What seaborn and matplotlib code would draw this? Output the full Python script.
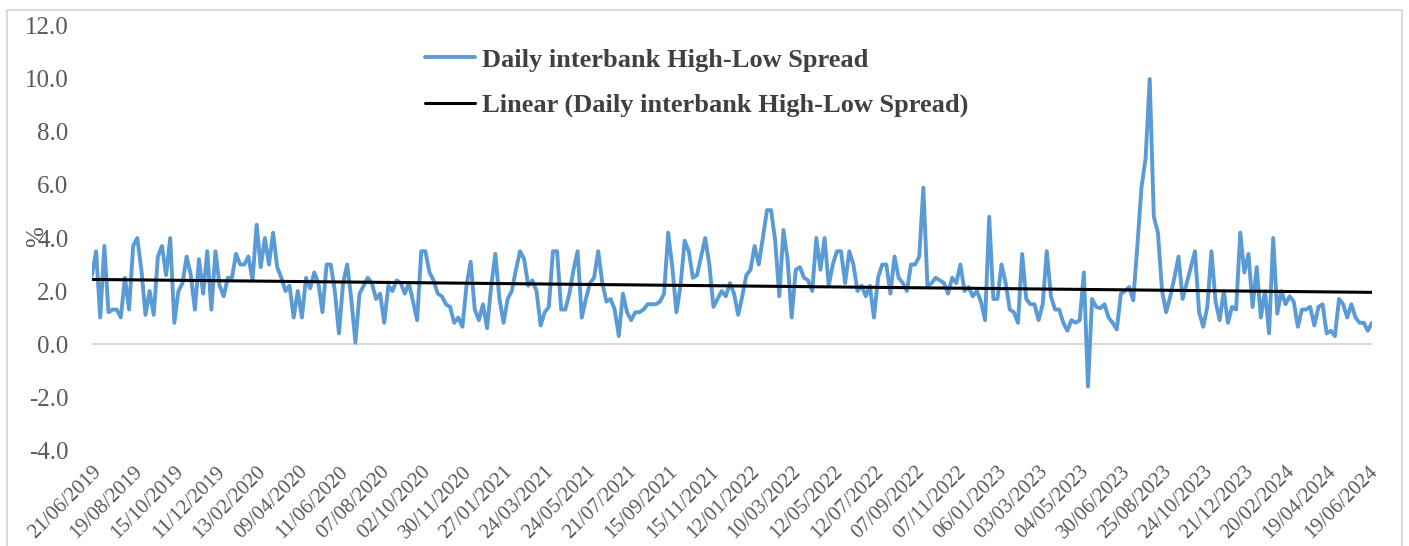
import numpy as np
import pandas as pd
import seaborn as sns
import matplotlib.pyplot as plt
from matplotlib.patches import Rectangle

# daily interbank high-low spread (%), one reading every 4 trading days
spread_jun19_feb20 = [2.6, 3.5, 1.0, 3.7, 1.2, 1.3, 1.3, 1.0, 2.5, 1.3,
                      3.7, 4.0, 2.8, 1.1, 2.0, 1.1, 3.3, 3.7, 2.6, 4.0,
                      0.8, 2.0, 2.3, 3.3, 2.6, 1.3, 3.2, 1.9, 3.5, 1.3,
                      3.5, 2.2, 1.8, 2.5, 2.5, 3.4, 3.0, 3.0, 3.3, 2.4]
spread_feb20_nov20 = [4.5, 2.9, 4.0, 3.0, 4.2, 2.9, 2.5, 2.0, 2.2, 1.0,
                      2.0, 1.0, 2.5, 2.1, 2.7, 2.3, 1.2, 3.0, 3.0, 2.0,
                      0.4, 2.3, 3.0, 1.7, 0.05, 1.9, 2.2, 2.5, 2.3, 1.7,
                      1.9, 0.8, 2.2, 2.0, 2.4, 2.3, 1.9, 2.3, 1.6, 0.9]
spread_nov20_jul21 = [3.5, 3.5, 2.7, 2.4, 1.9, 1.8, 1.5, 1.4, 0.8, 1.0,
                      0.65, 2.2, 3.1, 1.3, 0.9, 1.5, 0.6, 2.2, 3.4, 1.7,
                      0.8, 1.7, 2.0, 2.8, 3.5, 3.2, 2.2, 2.4, 2.0, 0.7,
                      1.2, 1.4, 3.5, 3.5, 1.3, 1.3, 1.9, 2.8, 3.5, 1.0]
spread_jul21_mar22 = [1.7, 2.3, 2.5, 3.5, 2.3, 1.6, 1.7, 1.3, 0.3, 1.9,
                      1.2, 0.9, 1.2, 1.2, 1.3, 1.5, 1.5, 1.5, 1.6, 1.9,
                      4.2, 2.9, 1.2, 2.2, 3.9, 3.5, 2.5, 2.6, 3.3, 4.0,
                      3.0, 1.4, 1.7, 2.0, 1.8, 2.3, 1.9, 1.1, 1.8, 2.6]
spread_mar22_nov22 = [2.8, 3.7, 3.0, 4.0, 5.05, 5.05, 3.9, 1.8, 4.3, 3.2,
                      1.0, 2.8, 2.9, 2.5, 2.4, 2.0, 4.0, 2.8, 4.0, 2.2,
                      3.0, 3.5, 3.5, 2.3, 3.5, 3.0, 2.0, 2.2, 1.8, 2.2,
                      1.0, 2.5, 3.0, 3.0, 1.9, 3.3, 2.5, 2.3, 2.0, 3.0]
spread_nov22_jun23 = [3.0, 3.3, 5.9, 2.2, 2.3, 2.5, 2.4, 2.3, 1.9, 2.5,
                      2.3, 3.0, 2.0, 2.15, 1.8, 2.0, 1.6, 0.9, 4.8, 1.7,
                      1.7, 3.0, 2.3, 1.3, 1.2, 0.8, 3.4, 1.7, 1.5, 1.5,
                      0.9, 1.5, 3.5, 1.8, 1.3, 1.3, 0.8, 0.5, 0.9, 0.8]
spread_jun23_feb24 = [0.9, 2.7, -1.6, 1.7, 1.4, 1.35, 1.5, 1.0, 0.8, 0.55,
                      1.9, 2.0, 2.15, 1.65, 3.7, 5.9, 7.0, 10.0, 4.8, 4.2,
                      2.0, 1.2, 1.8, 2.5, 3.3, 1.7, 2.3, 2.9, 3.5, 1.2,
                      0.65, 1.4, 3.5, 1.6, 0.9, 2.0, 0.8, 1.4, 1.3, 4.2]
spread_feb24_jun24 = [2.7, 3.4, 1.4, 2.9, 1.0, 2.0, 0.4, 4.0, 1.15, 2.0,
                      1.5, 1.8, 1.6, 0.65, 1.3, 1.3, 1.4, 0.7, 1.4, 1.5,
                      0.4, 0.5, 0.3, 1.7, 1.5, 1.0, 1.5, 1.0, 0.8, 0.8,
                      0.5, 0.8]

date_labels = ["21/06/2019", "19/08/2019", "15/10/2019", "11/12/2019", "13/02/2020",
               "09/04/2020", "11/06/2020", "07/08/2020", "02/10/2020", "30/11/2020",
               "27/01/2021", "24/03/2021", "24/05/2021", "21/07/2021", "15/09/2021",
               "15/11/2021", "12/01/2022", "10/03/2022", "12/05/2022", "12/07/2022",
               "07/09/2022", "07/11/2022", "06/01/2023", "03/03/2023", "04/05/2023",
               "30/06/2023", "25/08/2023", "24/10/2023", "21/12/2023", "20/02/2024",
               "19/04/2024", "19/06/2024"]

spread = (spread_jun19_feb20 + spread_feb20_nov20 + spread_nov20_jul21 + spread_jul21_mar22
          + spread_mar22_nov22 + spread_nov22_jun23 + spread_jun23_feb24 + spread_feb24_jun24)
df = pd.DataFrame({"day": np.arange(len(spread)) * 4, "spread": spread})

sns.set_theme(style="white")
plt.rcParams["font.family"] = ["Liberation Serif", "DejaVu Serif"]

fig = plt.figure(figsize=(14.09, 5.46), dpi=100)
ax = fig.add_axes([0.0653, 0.1758, 0.9084, 0.7766])

ax.axhline(0, color="#D9D9D9", lw=1.5, zorder=0)
sns.lineplot(data=df, x="day", y="spread", color="#5B9BD5", lw=2.8, ax=ax,
             label="Daily interbank High-Low Spread")
sns.regplot(data=df, x="day", y="spread", scatter=False, ci=None, color="black",
            line_kws={"lw": 2.2}, ax=ax, label="Linear (Daily interbank High-Low Spread)")

ax.set_xlim(0, df["day"].max())
ax.set_ylim(-4, 12)
ax.set_yticks(np.arange(-4, 13, 2))
ax.set_yticklabels([f"{v:.1f}" for v in np.arange(-4, 13, 2)])
ax.set_xticks(np.arange(len(date_labels)) * 40)
ax.set_xticklabels(date_labels, rotation=45, ha="right", va="top", rotation_mode="anchor")
ax.tick_params(axis="y", length=0, pad=17, labelsize=18, labelcolor="#595959")
ax.tick_params(axis="x", length=0, pad=9, labelsize=15, labelcolor="#595959")
ax.set_xlabel("")
ax.set_ylabel("")
for s in ax.spines.values():
    s.set_visible(False)

ax.legend(loc="upper left", bbox_to_anchor=(0.3016, 0.912), bbox_transform=fig.transFigure,
          frameon=False, prop={"family": "Liberation Serif", "weight": "bold", "size": 19},
          labelcolor="#404040", handlelength=1.9, handletextpad=0.27, labelspacing=0.83,
          borderpad=0, borderaxespad=0)

fig.text(37 / 1409, 1 - 237 / 546, "%", rotation=90, ha="center", va="center",
         fontsize=18, color="#595959")

fig.patches.append(Rectangle((7 / 1409, -0.05), 1395 / 1409, 1.05 - 10 / 546,
                             transform=fig.transFigure, fill=False,
                             edgecolor="#D9D9D9", lw=1.5))

fig.savefig("out.png", dpi=100)
